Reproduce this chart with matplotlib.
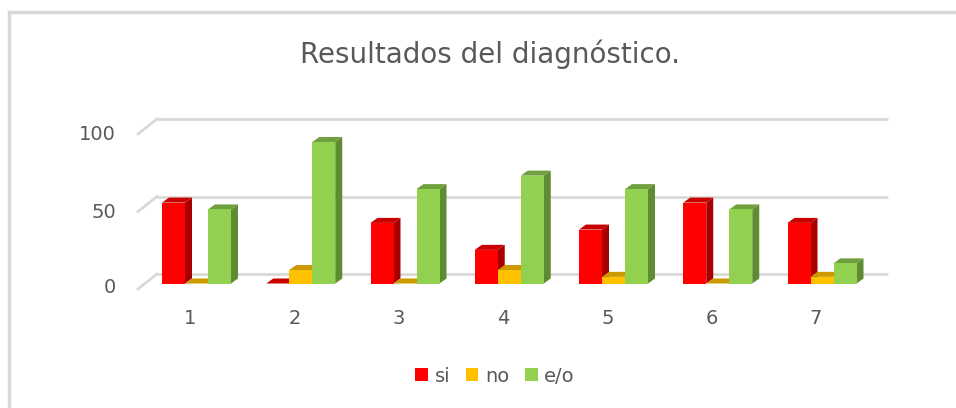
import matplotlib
matplotlib.use('Agg')
import matplotlib.pyplot as plt
from matplotlib.patches import Polygon, Patch
from matplotlib.lines import Line2D

W, H = 956, 408

categories = ['1', '2', '3', '4', '5', '6', '7']
series = ['si', 'no', 'e/o']
si  = [52.2, 0.0, 39.1, 21.7, 34.8, 52.2, 39.1]
no  = [0.0, 8.7, 0.0, 8.7, 4.3, 0.0, 4.3]
eo  = [47.8, 91.3, 60.9, 69.6, 60.9, 47.8, 13.0]
yticks = [0, 50, 100]

FRONT = ['#FF0000', '#FFC000', '#92D050']
SIDE  = ['#A80000', '#B98C00', '#5F8B32']
TOP   = ['#C80000', '#CC9A00', '#70A03E']
GRID  = '#D9D9D9'
TEXT  = '#595959'

# pixel geometry (measured on the picture)
CAT_PX = 104.25     # px per category
VAL_PX = 1.55       # px per value unit
X0_PX, Y0_PX = 196.5, 283.5   # centre of first group, front baseline

def dx(px):
    return px / CAT_PX

def dy(px):
    return px / VAL_PX

BAR_W = dx(23)
DEPTH_X, DEPTH_Y = dx(7), dy(5)
WALL_Y = dy(9.5)             # back wall sits above front baseline
WALL_DX, WALL_DY = dx(19), dy(15)
GRID_X0 = (157 - X0_PX) / CAT_PX
GRID_X1 = (888 - X0_PX) / CAT_PX

fig = plt.figure(figsize=(W / 100, H / 100), dpi=100)
fig.patch.set_facecolor('white')
ax = fig.add_axes([0, 0, 1, 1])
ax.set_xlim(-X0_PX / CAT_PX, (W - X0_PX) / CAT_PX)
ax.set_ylim(-(H - Y0_PX) / VAL_PX, Y0_PX / VAL_PX)
ax.axis('off')

def px_text(x, y, s, **kw):
    fig.text(x / W, 1 - y / H, s, **kw)

# chart border (left and top edges visible)
fig.add_artist(Line2D([9 / W, 9 / W], [0, 1 - 12 / H], color=GRID, lw=2.5))
fig.add_artist(Line2D([9 / W, 1], [1 - 12 / H, 1 - 12 / H], color=GRID, lw=2.5))

# back wall gridlines + left floor diagonals
for v in yticks:
    yb = v + WALL_Y
    ax.plot([GRID_X0, GRID_X1], [yb, yb], color=GRID, lw=2, zorder=1,
            solid_capstyle='butt')
    ax.plot([GRID_X0 - WALL_DX, GRID_X0], [yb - WALL_DY, yb], color=GRID,
            lw=2, zorder=1)

# bars, drawn left to right so later fronts hide earlier sides
values = [si, no, eo]
z = 2
for i in range(len(categories)):
    for k, vals in enumerate(values):
        v = vals[i]
        left = i + (k - 1.5) * BAR_W
        right = left + BAR_W
        side = Polygon([(right, 0), (right + DEPTH_X, DEPTH_Y),
                        (right + DEPTH_X, v + DEPTH_Y), (right, v)],
                       closed=True, fc=SIDE[k], ec='none', zorder=z)
        top = Polygon([(left, v), (right, v), (right + DEPTH_X, v + DEPTH_Y),
                       (left + DEPTH_X, v + DEPTH_Y)],
                      closed=True, fc=TOP[k], ec='none', zorder=z)
        ax.add_patch(side)
        ax.add_patch(top)
        ax.bar(left, v, width=BAR_W, align='edge', color=FRONT[k],
               edgecolor='none', zorder=z + 0.5)
        z += 1

# y tick labels
for v, ypx in zip(yticks, [287.5, 212, 134.7]):
    px_text(116, ypx, str(v), ha='right', va='center', fontsize=14,
            color=TEXT)

# category labels
for i, c in enumerate(categories):
    px_text(X0_PX + i * CAT_PX - 6, 318, c, ha='center', va='center',
            fontsize=14, color=TEXT)

# title
px_text(490, 54, 'Resultados del diagnóstico.', ha='center', va='center',
        fontsize=20, color=TEXT)

# legend
handles = [Patch(fc=FRONT[k], ec='none', label=series[k]) for k in range(3)]
fig.legend(handles=handles, loc='center', bbox_to_anchor=(495 / W, 1 - 376 / H),
           ncol=3, frameon=False, fontsize=14, handlelength=0.65,
           handleheight=0.65, handletextpad=0.35, columnspacing=0.8,
           labelcolor=TEXT)

fig.savefig('out.png', dpi=100, facecolor='white')
